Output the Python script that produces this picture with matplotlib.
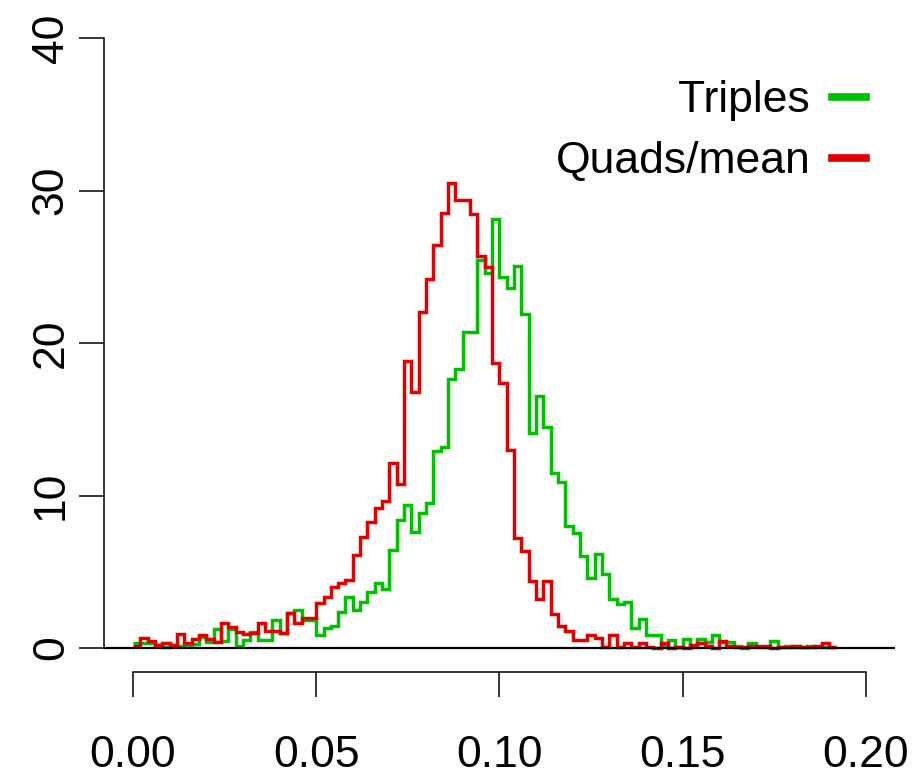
import numpy as np
import matplotlib
matplotlib.use("Agg")
import matplotlib.pyplot as plt

plt.rcParams['font.family'] = ['Liberation Sans', 'DejaVu Sans']

# histogram bins (width 0.002, from 0 to 0.192)
bin_edges = np.arange(0, 0.1921, 0.002)

# densities
triples = [0.35, 0.3, 0.35, 0.2, 0.05, 0.2, 0.1, 0.1, 0.28, 0.7,
           0.42, 1.25, 0.48, 1.25, 0.13, 0.52, 1.07, 0.52, 0.52, 1.84,
           1.0, 2.32, 2.49, 1.84, 1.84, 0.85, 1.29, 1.47, 2.38, 3.35,
           2.49, 3.0, 3.65, 4.24, 3.87, 6.45, 8.37, 9.4, 7.63, 8.85,
           9.5, 12.9, 13.15, 17.64, 18.3, 20.7, 20.7, 25.44, 24.6, 28.1,
           24.35, 23.6, 25.07, 21.9, 14.08, 16.55, 14.5, 11.5, 10.86, 8.0,
           7.52, 6.03, 4.57, 6.14, 4.85, 3.19, 2.86, 3.04, 1.29, 1.88,
           0.85, 0.85, 0.2, 0.5, 0.05, 0.57, 0.05, 0.57, 0.4, 0.85,
           0.4, 0.4, 0.13, 0.0, 0.35, 0.05, 0.05, 0.45, 0.05, 0.1,
           0.05, 0.05, 0.1, 0.05, 0.05, 0.05]

quads_mean = [0.13, 0.63, 0.46, 0.2, 0.35, 0.2, 0.9, 0.35, 0.59, 0.85,
              0.57, 0.42, 1.62, 1.4, 1.03, 0.93, 1.0, 1.62, 1.11, 1.11,
              0.96, 2.27, 1.62, 1.95, 1.95, 2.95, 3.35, 4.02, 4.24, 4.48,
              6.1, 7.28, 8.25, 9.18, 9.66, 12.15, 10.78, 18.8, 16.8, 22.05,
              24.2, 26.4, 28.5, 30.5, 29.4, 29.35, 28.46, 25.7, 25.0, 18.7,
              17.4, 13.0, 7.2, 6.36, 4.4, 3.2, 4.4, 2.2, 1.46, 1.12,
              0.52, 0.52, 0.85, 0.63, 0.09, 0.85, 0.09, 0.35, 0.09, 0.35,
              0.09, 0.0, 0.35, 0.0, 0.09, 0.0, 0.2, 0.3, 0.1, 0.0,
              0.45, 0.1, 0.05, 0.05, 0.15, 0.15, 0.15, 0.0, 0.05, 0.05,
              0.15, 0.05, 0.05, 0.15, 0.35, 0.05]

x_ticks = [0.00, 0.05, 0.10, 0.15, 0.20]
x_labels = ["0.00", "0.05", "0.10", "0.15", "0.20"]
y_ticks = [0, 10, 20, 30, 40]

green = '#00C000'
red = '#E00000'

fig = plt.figure(figsize=(9.16, 7.8), dpi=100)
ax = fig.add_axes([103.7 / 916, 1 - 672.4 / 780, (895 - 103.7) / 916, (672.4 - 13.6) / 780])

ax.stairs(triples, bin_edges, baseline=None, color=green, lw=2.5, label='Triples')
ax.stairs(quads_mean, bin_edges, baseline=None, color=red, lw=2.5, label='Quads/mean')
ax.axhline(0, color='black', lw=1.6)

ax.set_xlim(-0.008, 0.208)
ax.set_ylim(-1.6, 41.6)

for s in ['top', 'right']:
    ax.spines[s].set_visible(False)
ax.spines['left'].set_bounds(0, 40)
ax.spines['bottom'].set_bounds(0, 0.2)
ax.spines['left'].set_linewidth(1.1)
ax.spines['bottom'].set_linewidth(1.1)

ax.set_xticks(x_ticks)
ax.set_xticklabels(x_labels)
ax.set_yticks(y_ticks)
ax.tick_params(axis='both', length=18, width=1.1, labelsize=32)
ax.tick_params(axis='x', pad=27)
ax.tick_params(axis='y', pad=5, labelrotation=90)
for lab in ax.get_yticklabels():
    lab.set_va('center')

leg = ax.legend(loc='upper right', bbox_to_anchor=(0.2, 0.899), bbox_transform=ax.get_xaxis_transform(),
                frameon=False, markerfirst=False, fontsize=32, handlelength=0.75,
                handletextpad=0.5, labelspacing=0.45, borderpad=0, borderaxespad=0)
for h in leg.get_lines():
    h.set_linewidth(5.5)

fig.savefig('out.png', dpi=100)
